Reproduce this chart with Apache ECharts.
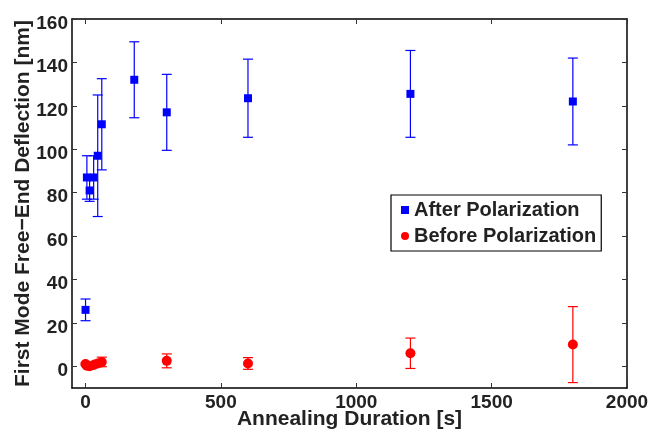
<!DOCTYPE html>
<html>
<head>
<meta charset="utf-8">
<script src="https://cdn.jsdelivr.net/npm/echarts@6/dist/echarts.min.js"></script>
<style>
  html, body { margin: 0; padding: 0; background: #fff; }
  #chart { width: 651px; height: 430px; }
</style>
</head>
<body>
<div id="chart"></div>
<script>
'use strict'

// annealing durations [s] and deflections [nm] with half error-bar lengths
var afterTimes = [0, 5, 15, 30, 45, 60, 180, 300, 600, 1200, 1800];
var afterValues = [26, 87, 81, 87, 97, 111.5, 132, 117, 123.5, 125.5, 122];
var afterErrors = [5, 10, 5, 10, 28, 21, 17.5, 17.5, 18, 20, 20];

var beforeTimes = [0, 5, 15, 30, 45, 60, 300, 600, 1200, 1800];
var beforeValues = [1, 0.3, 0, 0.6, 1.3, 2, 2.5, 1.3, 6, 10];
var beforeErrors = [0.5, 0.5, 0.5, 1, 1.5, 2.2, 3.2, 2.7, 7, 17.5];

var xTicks = [0, 500, 1000, 1500, 2000];
var yTicks = [0, 20, 40, 60, 80, 100, 120, 140, 160];

var font = 'Liberation Sans, Arial, Helvetica, sans-serif';
var textColor = '#222';

function points(times, values) {
    return times.map(function (t, i) { return [t, values[i]]; });
}
function bars(times, values, errs) {
    return times.map(function (t, i) { return [t, values[i] - errs[i], values[i] + errs[i]]; });
}
function errorBar(color) {
    return function (params, api) {
        var lo = api.coord([api.value(0), api.value(1)]);
        var hi = api.coord([api.value(0), api.value(2)]);
        var w = 5;
        var style = { stroke: color, lineWidth: 1.2 };
        return {
            type: 'group',
            children: [
                { type: 'line', shape: { x1: lo[0], y1: lo[1], x2: hi[0], y2: hi[1] }, style: style },
                { type: 'line', shape: { x1: lo[0] - w, y1: lo[1], x2: lo[0] + w, y2: lo[1] }, style: style },
                { type: 'line', shape: { x1: hi[0] - w, y1: hi[1], x2: hi[0] + w, y2: hi[1] }, style: style }
            ]
        };
    };
}

var axisLine = { show: true, onZero: false, lineStyle: { color: '#000', width: 1.5 } };
var tickIn = { show: true, inside: true, length: 5, lineStyle: { color: '#333', width: 1 } };

var chart = echarts.init(document.getElementById('chart'));
var option = {
    animation: false,
    grid: {
        top: 19,
        right: 24,
        bottom: 42,
        left: 72,
        containLabel: false,
        outerBoundsMode: 'none'
    },
    legend: {
        orient: 'vertical',
        left: 391,
        top: 195,
        data: [
            { name: 'After Polarization', icon: 'rect' },
            { name: 'Before Polarization', icon: 'circle' }
        ],
        itemWidth: 8,
        itemHeight: 8,
        itemGap: 6,
        padding: [5, 5, 5, 10],
        borderColor: '#000',
        borderWidth: 1.2,
        backgroundColor: '#fff',
        textStyle: {
            fontFamily: font,
            fontWeight: 'bold',
            fontSize: 20,
            lineHeight: 20,
            color: textColor
        }
    },
    xAxis: [{
        type: 'value',
        min: -50,
        max: 2000,
        name: 'Annealing Duration [s]',
        nameLocation: 'middle',
        nameGap: 21,
        nameMoveOverlap: false,
        nameTextStyle: { fontFamily: font, fontWeight: 'bold', fontSize: 21, color: textColor },
        axisLine: axisLine,
        axisTick: Object.assign({ customValues: xTicks }, tickIn),
        axisLabel: {
            customValues: xTicks,
            formatter: function (v) { return String(v); },
            margin: 5,
            fontFamily: font, fontWeight: 'bold', fontSize: 19, color: textColor
        },
        splitLine: { show: false }
    }, {
        type: 'value',
        position: 'top',
        min: -50,
        max: 2000,
        axisLine: axisLine,
        axisTick: Object.assign({ customValues: xTicks }, tickIn),
        axisLabel: { show: false },
        splitLine: { show: false }
    }],
    yAxis: [{
        type: 'value',
        min: -10,
        max: 160,
        name: 'First Mode Free\u2212End Deflection [nm]',
        nameLocation: 'middle',
        nameGap: 38,
        nameMoveOverlap: false,
        nameTextStyle: { fontFamily: font, fontWeight: 'bold', fontSize: 21, color: textColor },
        axisLine: axisLine,
        axisTick: Object.assign({ customValues: yTicks }, tickIn),
        axisLabel: {
            customValues: yTicks,
            formatter: function (v) { return '{t|' + v + '}'; },
            margin: 4,
            rich: {
                t: {
                    padding: [9, 0, 0, 0],
                    fontFamily: font, fontWeight: 'bold', fontSize: 19, color: textColor
                }
            }
        },
        splitLine: { show: false }
    }, {
        type: 'value',
        position: 'right',
        min: -10,
        max: 160,
        axisLine: axisLine,
        axisTick: Object.assign({ customValues: yTicks }, tickIn),
        axisLabel: { show: false },
        splitLine: { show: false }
    }],
    series: [{
        name: 'after-err',
        type: 'custom',
        renderItem: errorBar('#0000ff'),
        encode: { x: 0, y: [1, 2] },
        data: bars(afterTimes, afterValues, afterErrors),
        z: 2
    }, {
        name: 'before-err',
        type: 'custom',
        renderItem: errorBar('#ff0000'),
        encode: { x: 0, y: [1, 2] },
        data: bars(beforeTimes, beforeValues, beforeErrors),
        z: 2
    }, {
        name: 'After Polarization',
        type: 'scatter',
        symbol: 'rect',
        symbolSize: 8,
        itemStyle: { color: '#0000ff', opacity: 1 },
        data: points(afterTimes, afterValues),
        z: 3
    }, {
        name: 'Before Polarization',
        type: 'scatter',
        symbol: 'circle',
        symbolSize: 10,
        itemStyle: { color: '#ff0000', opacity: 1 },
        data: points(beforeTimes, beforeValues),
        z: 3
    }]
};
chart.setOption(option);
window.addEventListener('resize', function () {
    chart.resize();
});
</script>
</body>
</html>
